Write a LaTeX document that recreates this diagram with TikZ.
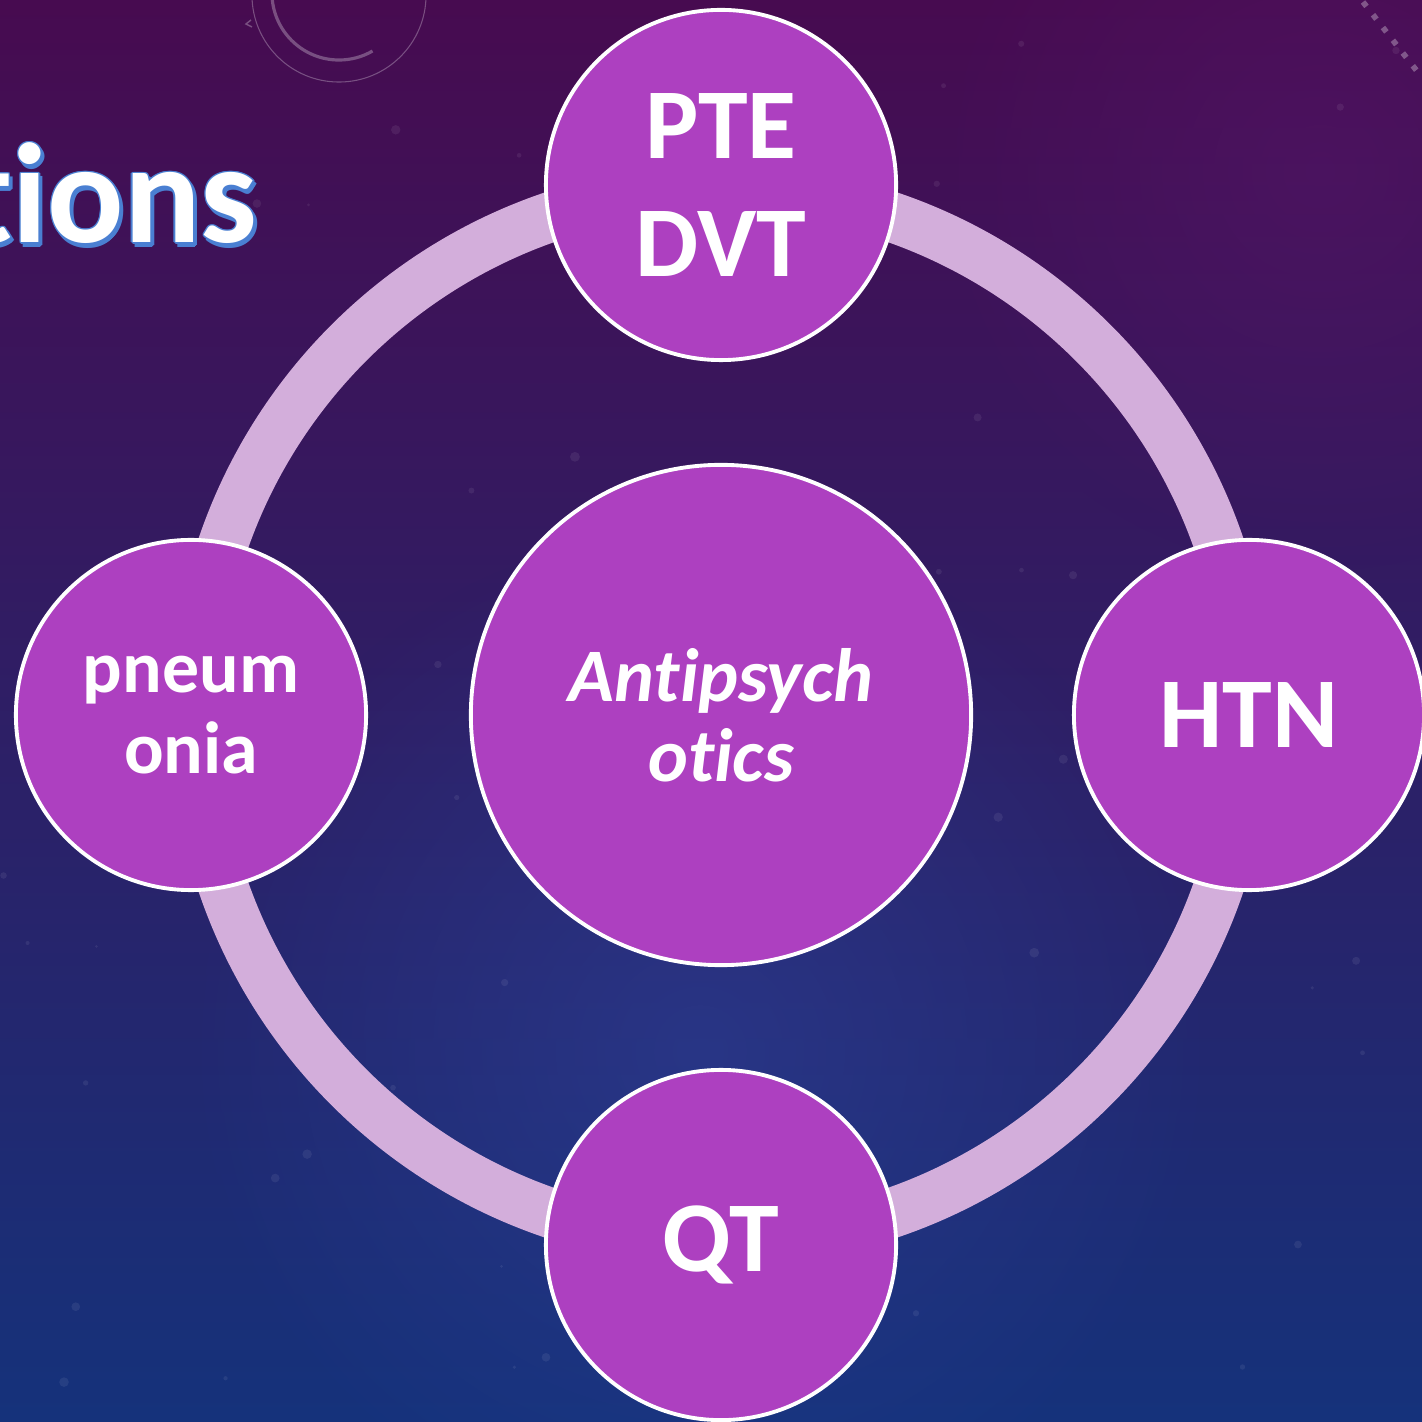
\documentclass[tikz,border=0pt]{standalone}
\usepackage{fontspec}
\setmainfont{Carlito}[RawFeature={-liga;-clig;-dlig}]
\usetikzlibrary{fadings}

\definecolor{bgtop}{HTML}{470B50}
\definecolor{bgmid}{HTML}{321A68}
\definecolor{bgbot}{HTML}{15327B}
\definecolor{glowblue}{HTML}{2E4198}
\definecolor{glowviolet}{HTML}{57186C}
\definecolor{ringlilac}{HTML}{D3AEDB}
\definecolor{bubble}{HTML}{AD40C0}
\definecolor{titleblue}{HTML}{4A7FD2}

% soft radial fade used for the sky glows
\tikzfading[name=glowfade, inner color=transparent!0, outer color=transparent!100]

\tikzset{
  bubblenode/.style={circle, fill=bubble, draw=white, line width=1.1pt,
    inner sep=0pt, align=center, text=white, font=\bfseries},
  outerbubble/.style={bubblenode, minimum size=3.5cm},
  ringline/.style={draw=ringlilac, line width=0.5cm},
  bigtext/.style={font=\bfseries\fontsize{28.5}{33.6}\selectfont},
  smalltext/.style={font=\bfseries\fontsize{21}{22.8}\selectfont},
  italtext/.style={font=\bfseries\itshape\fontsize{21.5}{22.8}\selectfont},
  titletext/.style={anchor=base east, inner sep=0pt, font=\bfseries\fontsize{40.5}{48}\selectfont},
  orbit/.style={draw=white, draw opacity=0.28},
  star/.style={fill=white, fill opacity=0.07},
}

\begin{document}
\begin{tikzpicture}[x=0.01cm, y=0.01cm]
  % canvas: 1422 x 1421 units, origin at lower left
  \useasboundingbox (0,0) rectangle (1422,1421);
  \clip (0,0) rectangle (1422,1421);

  % night-sky background
  \shade[top color=bgtop, middle color=bgmid, bottom color=bgbot]
    (0,0) rectangle (1422,1421);
  \fill[glowblue, fill opacity=0.55, path fading=glowfade]
    (700,370) circle[radius=5.2cm];
  \fill[glowviolet, fill opacity=0.45, path fading=glowfade]
    (1320,1250) circle[radius=4cm];

  % faint stars
  \pgfmathsetseed{41}
  \foreach \i in {1,...,70}{
    \pgfmathsetmacro\sx{rnd*1422}
    \pgfmathsetmacro\sy{rnd*1421}
    \pgfmathsetmacro\sr{0.4+1.0*rnd}
    \fill[star] (\sx,\sy) circle[radius=\sr pt];
  }

  % orbit ornament in the upper left
  \draw[orbit, line width=0.3pt] (339,1426) circle[radius=0.87cm];
  \draw[orbit, line width=0.9pt] (339,1428) ++(180:0.67cm) arc[start angle=180, end angle=300, radius=0.67cm];
  \draw[orbit, line width=0.4pt] (251,1401) -- (246,1397) -- (252,1394);
  % dotted arc in the upper right
  \draw[white, opacity=0.3, line width=1.6pt, dash pattern=on 1.6pt off 3pt]
    (1363,1419) -- (1420,1346);

  % title fragment with blue outline and drop shadow
  \foreach \dx/\dy in {3/-4, 4/-3, 2/-5, 1.5/0, -1.5/0, 0/1.5, 0/-1.5, 1/1, -1/-1, 1/-1, -1/1}{
    \node[titletext, text=titleblue] at (258+\dx,1178+\dy) {tions};
  }
  \node[titletext, text=white] (title) at (258,1178) {tions};

  % centre coordinate of the cycle
  \coordinate (hub) at (721,706);

  % ring joining the outer bubbles
  \draw[ringline] (hub) circle[radius=5.26cm];

  % bubbles
  \node[bubblenode, minimum size=5cm, italtext] (anti) at (hub) {Antipsych\\otics};
  \node[outerbubble, bigtext] (pte)  at (721,1236) {PTE\\DVT};
  \node[outerbubble, bigtext] (htn)  at (1249,706) {HTN};
  \node[outerbubble, bigtext] (qt)   at (721,176)  {QT};
  \node[outerbubble, smalltext] (pneu) at (191,706) {pneum\\onia};
\end{tikzpicture}
\end{document}
